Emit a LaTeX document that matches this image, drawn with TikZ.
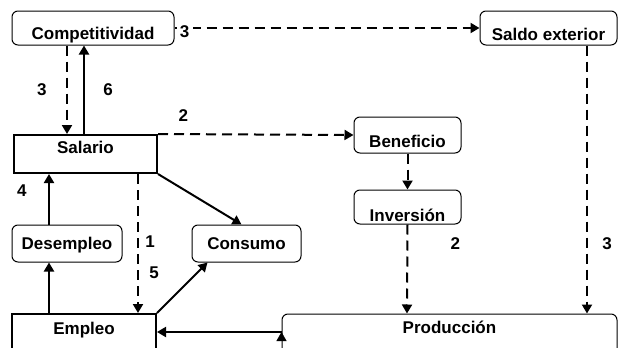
\documentclass[tikz,border=0pt]{standalone}
\usepackage{fontspec}
\setmainfont{Liberation Sans}
\usetikzlibrary{positioning, arrows.meta}
\tikzset{
  ->,
  >={Triangle[width=10pt, length=9pt]},
  every node/.style={font=\fontsize{17}{19}\selectfont\bfseries},
  soft box/.style={draw, -, line width=1pt, rounded corners=6pt, inner xsep=3pt, inner ysep=2pt, text height=#1, text depth=0pt},
  soft box/.default=12pt,
  hard box/.style={draw, -, line width=2pt, inner xsep=3pt, inner ysep=2pt, text height=12pt, text depth=#1},
  link/.style={line width=2pt},
  dashlink/.style={line width=2pt, dash pattern=on 10pt off 6pt},
}

\begin{document}
\begin{tikzpicture}[x=1pt, y=-1pt]
  \clip[use as bounding box] (0,0) rectangle (619,348);

  % boxes
  \node[soft box=22pt, minimum width=162pt, minimum height=34pt] (comp) at (93,28) {Competitividad};
  \node[soft box=24pt, minimum width=137pt, minimum height=34pt] (saldo) at (548.5,28) {Saldo exterior};
  \node[hard box=14pt, minimum width=143pt, minimum height=38pt] (sal) at (85.5,154) {Salario};
  \node[soft box=24pt, minimum width=107pt, minimum height=36pt] (ben) at (407.5,135) {Beneficio};
  \node[soft box=28pt, minimum width=107pt, minimum height=34pt] (inv) at (407.5,207) {Inversión};
  \node[soft box, minimum width=110pt, minimum height=37pt] (des) at (67,243.5) {Desempleo};
  \node[soft box, minimum width=109pt, minimum height=37pt] (cons) at (246.5,243.5) {Consumo};
  \node[hard box=32pt, minimum width=144pt, minimum height=60pt] (emp) at (84,344) {Empleo};
  \node[soft box, text depth=34pt, minimum width=335pt, minimum height=60pt] (prod) at (449.5,344) {Producción};

  % links
  \draw ([xshift=-26pt]comp.south) edge[dashlink] node[left=16pt]{3} ([xshift=-18.5pt]sal.north)
  ([xshift=-1.5pt]sal.north) edge[link] node[right=15pt]{6} ([xshift=-9pt]comp.south)
  (comp.east) edge[dashlink] node[pos=0, anchor=west, fill=white, xshift=1pt, yshift=-4pt]{3} (saldo.west)
  (sal.north east) edge[dashlink] node[pos=0.13, above=8pt]{2} (ben.west)
  (sal.south east) edge[link] ([xshift=-5pt]cons.north)
  ([xshift=52.5pt]sal.south) edge[dashlink] node[pos=0.49, right=3pt]{1} node[pos=0.71, right=7pt]{5} ([xshift=54pt]emp.north)
  (emp.north east) edge[link] ([xshift=16pt]cons.south west)
  ([xshift=-35pt]emp.north) edge[link] ([xshift=-18pt]des.south)
  ([xshift=-18pt]des.north) edge[link] node[pos=0.67, left=18pt]{4} ([xshift=-36.5pt]sal.south)
  (ben.south) edge[dashlink] (inv.north)
  (inv.south) edge[dashlink] node[pos=0.21, right=39pt]{2} ([xshift=-42.5pt]prod.north)
  ([xshift=38.5pt]saldo.south) edge[dashlink] node[pos=0.74, right=11pt]{3} ([xshift=137.5pt]prod.north)
  ([yshift=12pt]prod.west) edge[link] ([yshift=12pt]emp.east);
\end{tikzpicture}
\end{document}
